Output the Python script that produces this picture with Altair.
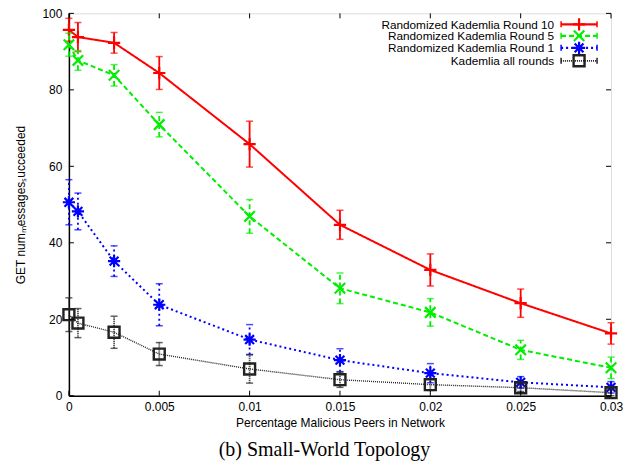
import altair as alt
import pandas as pd

# ---- data ----
x_vals = [0, 0.0005, 0.0025, 0.005, 0.01, 0.015, 0.02, 0.025, 0.03]

series_names = [
    "Randomized Kademlia Round 10",
    "Randomized Kademlia Round 5",
    "Randomized Kademlia Round 1",
    "Kademlia all rounds",
]
round10 = [95.7, 93.8, 92.3, 84.4, 65.8, 44.7, 32.9, 24.2, 16.3]
round10_err = [3.0, 3.8, 2.7, 4.3, 6.0, 3.8, 4.2, 3.7, 2.8]
round5 = [91.8, 87.7, 83.8, 70.9, 46.9, 28.1, 21.8, 12.0, 7.3]
round5_err = [3.0, 2.6, 2.8, 3.2, 4.4, 4.0, 3.6, 2.5, 2.8]
round1 = [50.6, 48.2, 35.2, 23.8, 14.7, 9.3, 5.9, 3.5, 2.2]
round1_err = [5.9, 4.8, 4.0, 5.5, 3.9, 3.0, 2.5, 1.5, 1.5]
kad_all = [21.2, 19.0, 16.6, 10.9, 7.0, 4.2, 2.9, 2.1, 0.8]
kad_all_err = [4.4, 3.8, 4.2, 3.0, 3.7, 2.0, 1.5, 1.0, 0.8]

x_ticks = [0, 0.005, 0.01, 0.015, 0.02, 0.025, 0.03]
y_ticks = [0, 20, 40, 60, 80, 100]

x_title = "Percentage Malicious Peers in Network"
y_title = "GET numₘessagesₛucceeded"
caption = "(b) Small-World Topology"

# ---- styles ----
W, H = 543, 383
FONT = "Liberation Sans"
PLUS = "M-1,0L1,0M0,-1L0,1"
XSH = "M-1,-1L1,1M-1,1L1,-1"
STAR = "M-1,0L1,0M0,-1L0,1M-0.72,-0.72L0.72,0.72M-0.72,0.72L0.72,-0.72"
styles = [
    dict(color="#ff0000", width=2.0, dash=[1, 0], shape=PLUS, size=150, sw=2.2),
    dict(color="#00ee00", width=2.0, dash=[5, 3], shape=XSH, size=110, sw=2.2),
    dict(color="#0000ff", width=2.0, dash=[2, 3], shape=STAR, size=150, sw=2.2),
    dict(color="#222222", width=1.4, dash=[1, 1], shape="square", size=120, sw=2.4),
]
values = [round10, round5, round1, kad_all]
errors = [round10_err, round5_err, round1_err, kad_all_err]

xscale = alt.Scale(domain=[0, 0.03], nice=False, zero=False)
yscale = alt.Scale(domain=[0, 100], nice=False)

X = alt.X(
    "x:Q", scale=xscale,
    axis=alt.Axis(values=x_ticks, format="~g", ticks=False, labelPadding=6,
                  labelFontSize=12, labelFont=FONT, labelColor="black",
                  title=x_title, titleFont=FONT, titleFontSize=12,
                  titleFontWeight="normal", titleColor="black", titlePadding=5,
                  domainColor="black", domainWidth=1.5, grid=False,
                  labelFlush=False, labelOverlap=False),
)
Y = alt.Y(
    "y:Q", scale=yscale,
    axis=alt.Axis(values=y_ticks, format="d", ticks=False, labelPadding=7,
                  labelFontSize=12, labelFont=FONT, labelColor="black",
                  title=y_title, titleFont=FONT, titleFontSize=12,
                  titleFontWeight="normal", titleColor="black", titlePadding=14,
                  domainColor="black", domainWidth=1.5, grid=False,
                  labelFlush=False, labelOverlap=False),
)

layers = []
for name, ys, es, st in zip(series_names, values, errors, styles):
    df = pd.DataFrame({"x": x_vals, "y": ys,
                       "lo": [v - e for v, e in zip(ys, es)],
                       "hi": [v + e for v, e in zip(ys, es)]})
    base = alt.Chart(df)
    layers.append(base.mark_line(color=st["color"], strokeWidth=st["width"],
                                 strokeDash=st["dash"]).encode(x=X, y=Y))
    layers.append(base.mark_rule(color=st["color"], strokeWidth=1.8,
                                 strokeDash=st["dash"]).encode(
        x=X, y=alt.Y("lo:Q", scale=yscale), y2="hi:Q"))
    for end in ["lo", "hi"]:
        layers.append(base.mark_tick(color=st["color"], orient="horizontal",
                                     size=7, thickness=1.5).encode(
            x=X, y=alt.Y(f"{end}:Q", scale=yscale)))
    layers.append(base.mark_point(shape=st["shape"], size=st["size"],
                                  filled=False, color=st["color"], opacity=1,
                                  strokeWidth=st["sw"]).encode(x=X, y=Y))

# inward ticks on all four sides
xt = alt.Chart(pd.DataFrame({"x": x_ticks}))
yt = alt.Chart(pd.DataFrame({"y": y_ticks}))
layers.append(xt.mark_rule(color="black", strokeWidth=1).encode(
    x=alt.X("x:Q", scale=xscale), y=alt.value(0), y2=alt.value(5)))
layers.append(xt.mark_rule(color="black", strokeWidth=1).encode(
    x=alt.X("x:Q", scale=xscale), y=alt.value(H - 5), y2=alt.value(H)))
layers.append(yt.mark_rule(color="black", strokeWidth=1).encode(
    y=alt.Y("y:Q", scale=yscale), x=alt.value(0), x2=alt.value(5)))
layers.append(yt.mark_rule(color="black", strokeWidth=1).encode(
    y=alt.Y("y:Q", scale=yscale), x=alt.value(W - 5), x2=alt.value(W)))

# manual legend (gnuplot style: text right, sample on the right)
one = pd.DataFrame({"a": [0]})
row_y = [11, 22.5, 34.5, 47.5]
tx, sx0, sx1, smid = 486, 493, 529, 511
for name, st, ry in zip(series_names, styles, row_y):
    lc = alt.Chart(one)
    layers.append(lc.mark_text(text=name, align="right", baseline="middle",
                               font=FONT, fontSize=11.8, color="black").encode(
        x=alt.value(tx), y=alt.value(ry + 0.5)))
    layers.append(lc.mark_rule(color=st["color"], strokeWidth=st["width"] + 0.3,
                               strokeDash=st["dash"]).encode(
        x=alt.value(sx0), x2=alt.value(sx1), y=alt.value(ry)))
    for ex in [sx0, sx1]:
        layers.append(lc.mark_rule(color=st["color"], strokeWidth=1.5).encode(
            x=alt.value(ex), y=alt.value(ry - 3), y2=alt.value(ry + 3)))
    layers.append(lc.mark_point(shape=st["shape"], size=st["size"], filled=False,
                                color=st["color"], opacity=1,
                                strokeWidth=st["sw"]).encode(
        x=alt.value(smid), y=alt.value(ry)))

# caption
layers.append(alt.Chart(one).mark_text(text=caption, align="center",
                                       baseline="middle", font="Liberation Serif",
                                       fontSize=20, color="black").encode(
    x=alt.value(256), y=alt.value(437)))

chart = alt.layer(*layers).properties(
    width=W, height=H,
    autosize=alt.AutoSizeParams(type="none"),
    padding={"left": 61, "top": 5, "right": 14, "bottom": 70},
).configure_view(stroke="black", strokeWidth=1.2).configure(background="white")

chart.save("out.html", embed_options={"renderer": "svg", "actions": False})
